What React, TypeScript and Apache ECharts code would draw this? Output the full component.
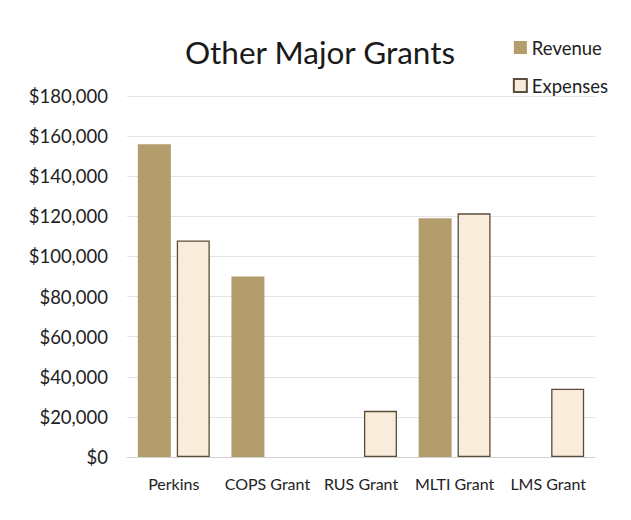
import React, { useEffect, useRef } from "react";
import * as echarts from "echarts";

const categories = ["Perkins", "COPS Grant", "RUS Grant", "MLTI Grant", "LMS Grant"];
const revenue = [156000, 90000, 0, 119000, 0];
const expenses = [108000, 0, 23000, 121500, 34000];
const titleText = "Other Major Grants";

const FONT = "Lato, 'Open Sans', sans-serif";

export default function App() {
  const ref = useRef<HTMLDivElement>(null);
  useEffect(() => {
    document.body.style.margin = "0";
    const chart = echarts.init(ref.current!, null, { renderer: "svg" });
    chart.setOption({
      animation: false,
      backgroundColor: "#ffffff",
      title: {
        text: titleText,
        left: 315,
        textAlign: "center",
        top: 31,
        textStyle: { fontFamily: FONT, fontSize: 31.5, fontWeight: "normal", color: "#1a1a1a" },
      },
      legend: {
        right: 18,
        top: 33,
        orient: "vertical",
        itemGap: 19,
        itemWidth: 13,
        itemHeight: 13,
        textStyle: { fontFamily: FONT, fontSize: 18.5, color: "#222" },
        data: [
          { name: "Revenue", icon: "rect" },
          { name: "Expenses", icon: "rect" },
        ],
      },
      grid: { left: 127, right: 36, top: 96, bottom: 63, containLabel: false },
      xAxis: {
        type: "category",
        data: categories,
        axisTick: { show: false },
        axisLine: { lineStyle: { color: "#d0d0d0" } },
        axisLabel: { fontFamily: FONT, fontSize: 16, color: "#222", margin: 18, interval: 0 },
      },
      yAxis: {
        type: "value",
        min: 0,
        max: 180000,
        interval: 20000,
        axisLine: { show: false },
        axisTick: { show: false },
        splitLine: { lineStyle: { color: "#e4e4e4" } },
        axisLabel: {
          fontFamily: FONT,
          fontSize: 18.5,
          color: "#222",
          margin: 19,
          formatter: (v: number) => "$" + v.toLocaleString("en-US"),
        },
      },
      series: [
        {
          name: "Revenue",
          type: "bar",
          data: revenue.map((v) => (v === 0 ? null : v)),
          barWidth: 33,
          barGap: "18%",
          itemStyle: { color: "#b39d6c" },
        },
        {
          name: "Expenses",
          type: "bar",
          data: expenses.map((v) => (v === 0 ? null : v)),
          barWidth: 33,
          itemStyle: { color: "#f9ecdb", borderColor: "#5a4c3c", borderWidth: 1.3 },
        },
      ],
    });
    return () => chart.dispose();
  }, []);
  return <div ref={ref} style={{ width: 631, height: 520 }} />;
}
